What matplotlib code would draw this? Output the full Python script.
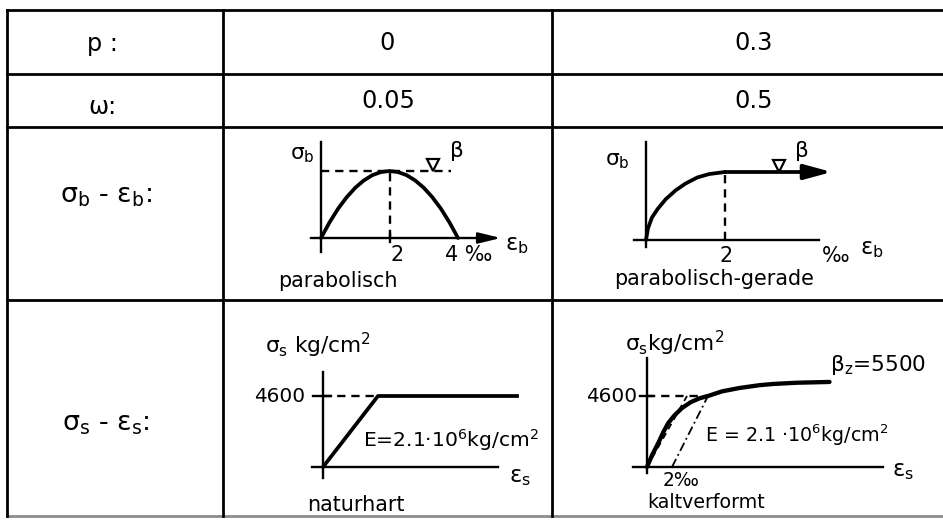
import matplotlib
matplotlib.use("Agg")
import matplotlib.pyplot as plt
import matplotlib.transforms as mtransforms

plt.rcParams['font.family'] = ['DejaVu Sans']
plt.rcParams['mathtext.fontset'] = 'custom'
plt.rcParams['mathtext.rm'] = 'DejaVu Sans'
plt.rcParams['mathtext.it'] = 'DejaVu Sans:italic'
plt.rcParams['mathtext.bf'] = 'DejaVu Sans:bold'
plt.rcParams['mathtext.default'] = 'rm'

# ---------------- data ----------------
row_labels = ['p :', 'ω:', r'$\sigma_b$ - $\varepsilon_b$:', r'$\sigma_s$ - $\varepsilon_s$:']
p_values = ['0', '0.3']
omega_values = ['0.05', '0.5']

# concrete, parabolic (eps in permille, sigma / beta)
para_eps = [0, 0.25, 0.5, 0.75, 1.0, 1.25, 1.5, 1.75, 2.0, 2.25, 2.5, 2.75, 3.0, 3.25, 3.5, 3.75, 4.0]
para_sig = [0, 0.234, 0.438, 0.609, 0.75, 0.859, 0.938, 0.984, 1.0, 0.984, 0.938, 0.859, 0.75, 0.609, 0.438, 0.234, 0]
para_ticks = ['2', '4']

# concrete, parabolic-straight
pg_eps = [0, 0.05, 0.15, 0.3, 0.5, 0.75, 1.0, 1.3, 1.6, 2.0]
pg_sig = [0, 0.17, 0.33, 0.46, 0.60, 0.73, 0.83, 0.92, 0.97, 1.0]
pg_plateau_end = 4.7

# steel, natural hard (eps permille, sigma kg/cm2)
nat_eps = [0, 2.19, 7.73]
nat_sig = [0, 4600, 4600]

# steel, cold worked
kalt_eps = [0, 0.4, 0.9, 1.3, 1.7, 2.2, 2.8, 3.5, 4.2, 4.88, 6.0, 7.4, 9.0, 10.1, 12.0, 14.6]
kalt_sig = [0, 760, 1550, 2250, 2850, 3350, 3820, 4200, 4450, 4600, 4900, 5120, 5300, 5380, 5460, 5510]
kalt_elastic_eps = [0, 3.2]
kalt_offset_eps = [2.0, 4.88]
kalt_line_sig = [0, 4600]
yield_stress = 4600

W, H = 943, 520
fig = plt.figure(figsize=(W / 100, H / 100), dpi=100)
renderer = fig.canvas.get_renderer()

bg = fig.add_axes([0, 0, 1, 1])
bg.set_xlim(0, W)
bg.set_ylim(H, 0)
bg.axis('off')

SHRINK = 0.95


def size_for(s, width, base=12.0):
    t = bg.text(0, 0, s, fontsize=base)
    w = t.get_window_extent(renderer).width
    t.remove()
    return base * width / w * SHRINK


def put(s, x, y, size, ha='center'):
    return bg.text(x, y, s, ha=ha, va='center', fontsize=size)


def fit(s, x0, x1, y):
    return put(s, (x0 + x1) / 2, y, size_for(s, x1 - x0))


# ---------------- table grid ----------------
xs = [7, 223, 552]
ys = [10, 74, 127, 300, 516]
LW = 2.0
for y in ys[:-1]:
    bg.plot([xs[0], W], [y, y], color='k', lw=LW)
bg.plot([xs[0], W], [ys[-1], ys[-1]], color='0.55', lw=LW)
for x in xs:
    bg.plot([x, x], [ys[0], ys[-1]], color='k', lw=LW)

NS = size_for('4600', 53)
DS = size_for('parabolisch', 125)
HS = NS * 1.2

put(row_labels[0], 102, 44, HS)
put(row_labels[1], 102, 107, HS)
put(row_labels[2], 106, 196, HS * 1.12)
put(row_labels[3], 106, 424, HS * 1.12)

put(p_values[0], 387, 43, HS)
put(p_values[1], 754, 43, HS)
put(omega_values[0], 388, 101, HS)
put(omega_values[1], 754, 101, HS)


def make_axes(x0, y0, sx, sy, xlim, ylim):
    left = x0 + xlim[0] * sx
    right = x0 + xlim[1] * sx
    top = y0 - ylim[1] * sy
    bottom = y0 - ylim[0] * sy
    ax = fig.add_axes([left / W, 1 - bottom / H, (right - left) / W, (bottom - top) / H])
    ax.set_xlim(xlim)
    ax.set_ylim(ylim)
    ax.axis('off')
    return ax


def tri(ax, x, y):
    tr = mtransforms.offset_copy(ax.transData, fig=fig, x=0, y=4.0, units='points')
    ax.plot([x], [y], marker='v', ms=8, mfc='white', mec='k', mew=1.6, transform=tr, clip_on=False)


ALW = 1.7
CLW = 2.7
DASH = (0, (3.5, 2.5))

# ---------------- diagram 1: parabolisch ----------------
s1x, s1y = 34.25, 67.0
a1 = make_axes(321, 238, s1x, s1y, (-0.6, 6.0), (-0.4, 1.6))
a1.plot([0, 0], [-0.21, 1.43], color='k', lw=ALW)
a1.annotate('', xy=(5.25, 0), xytext=(-0.3, 0),
            arrowprops=dict(arrowstyle='-|>,head_length=0.9,head_width=0.22', mutation_scale=15,
                            lw=ALW, color='k', shrinkA=0, shrinkB=0))
a1.plot(para_eps, para_sig, color='k', lw=CLW, solid_capstyle='round')
a1.plot([0, 3.8], [1, 1], color='k', lw=ALW, linestyle=DASH)
a1.plot([2, 2], [0, 1], color='k', lw=ALW, linestyle=DASH)
tri(a1, 3.28, 1.0)
a1.plot([2, 2], [-0.06, 0.06], color='k', lw=ALW)
put(r'$\sigma_b$', 302, 155, DS * 1.05)
put(r'$\beta$', 456, 151, DS * 1.05)
put(r'$\varepsilon_b$', 517, 245, DS * 1.1)
put(para_ticks[0], 391, 255, DS, ha='left')
put(para_ticks[1] + ' ‰', 445, 255, DS, ha='left')
put('parabolisch', 338, 281, DS)

# ---------------- diagram 2: parabolisch-gerade ----------------
s2x, s2y = 39.5, 68.0
a2 = make_axes(646, 240, s2x, s2y, (-0.6, 5.2), (-0.4, 1.6))
a2.plot([0, 0], [-0.1, 1.44], color='k', lw=ALW)
a2.plot([-0.3, 4.38], [0, 0], color='k', lw=ALW)
a2.plot(pg_eps, pg_sig, color='k', lw=CLW, solid_capstyle='round')
a2.annotate('', xy=(pg_plateau_end, 1.0), xytext=(2.0, 1.0),
            arrowprops=dict(arrowstyle='-|>,head_length=1.1,head_width=0.3', mutation_scale=15,
                            lw=CLW, color='k', shrinkA=0, shrinkB=0))
a2.plot([2, 2], [0, 1], color='k', lw=ALW, linestyle=DASH)
tri(a2, 3.37, 1.0)
put(r'$\sigma_b$', 617, 161, DS * 1.05)
put(r'$\beta$', 801, 151, DS * 1.05)
put('2', 726, 256, DS)
put('‰', 836, 256, DS)
put(r'$\varepsilon_b$', 872, 248, DS * 1.1)
put('parabolisch-gerade', 714, 279, DS)

# ---------------- diagram 3: naturhart ----------------
s3x, s3y = 25.1, 71.0 / 4600
a3 = make_axes(323, 467, s3x, s3y, (-1.0, 8.5), (-1000, 7000))
a3.plot([0, 0], [-713, 6155], color='k', lw=ALW)
a3.plot([-0.44, 6.97], [0, 0], color='k', lw=ALW)
a3.plot([0, nat_eps[1]], [yield_stress, yield_stress], color='k', lw=ALW, linestyle=DASH)
a3.plot(nat_eps, nat_sig, color='k', lw=CLW)
a3.plot([-0.4, 0.3], [yield_stress, yield_stress], color='k', lw=ALW)
put(r'$\sigma_s$ kg/cm$^2$', 265, 345, DS * 1.05, ha='left')
put('4600', 305, 396, NS, ha='right')
fit(r'E=2.1·10$^6$kg/cm$^2$', 358, 543, 440)
put(r'$\varepsilon_s$', 520, 477, DS * 1.1)
put('naturhart', 356, 505, DS)

# ---------------- diagram 4: kaltverformt ----------------
s4x, s4y = 12.5, 71.0 / 4600
a4 = make_axes(647, 467, s4x, s4y, (-2.0, 21.0), (-1000, 7500))
a4.plot([0, 0], [-400, 7063], color='k', lw=ALW)
a4.plot([-1.1, 18.9], [0, 0], color='k', lw=ALW)
a4.plot([0, 4.88], [yield_stress, yield_stress], color='k', lw=ALW, linestyle=DASH)
a4.plot(kalt_elastic_eps, kalt_line_sig, color='k', lw=1.3, linestyle=DASH)
a4.plot(kalt_offset_eps, kalt_line_sig, color='k', lw=1.3, linestyle=(0, (5, 2, 1, 2)))
a4.plot(kalt_eps, kalt_sig, color='k', lw=CLW + 0.4, solid_capstyle='round')
a4.plot([-0.6, 0.5], [yield_stress, yield_stress], color='k', lw=ALW)
put(r'$\sigma_s$kg/cm$^2$', 625, 343, DS * 1.05, ha='left')
put(r'$\beta_z$=5500', 830, 365, DS * 1.05, ha='left')
put('4600', 637, 396, NS, ha='right')
fit(r'E = 2.1 ·10$^6$kg/cm$^2$', 700, 893, 435)
put(r'$\varepsilon_s$', 903, 470, DS * 1.1)
put('2‰', 681, 480, DS * 0.9)
put('kaltverformt', 706, 503, DS * 0.92)

fig.savefig('out.png', dpi=100, facecolor='white')
